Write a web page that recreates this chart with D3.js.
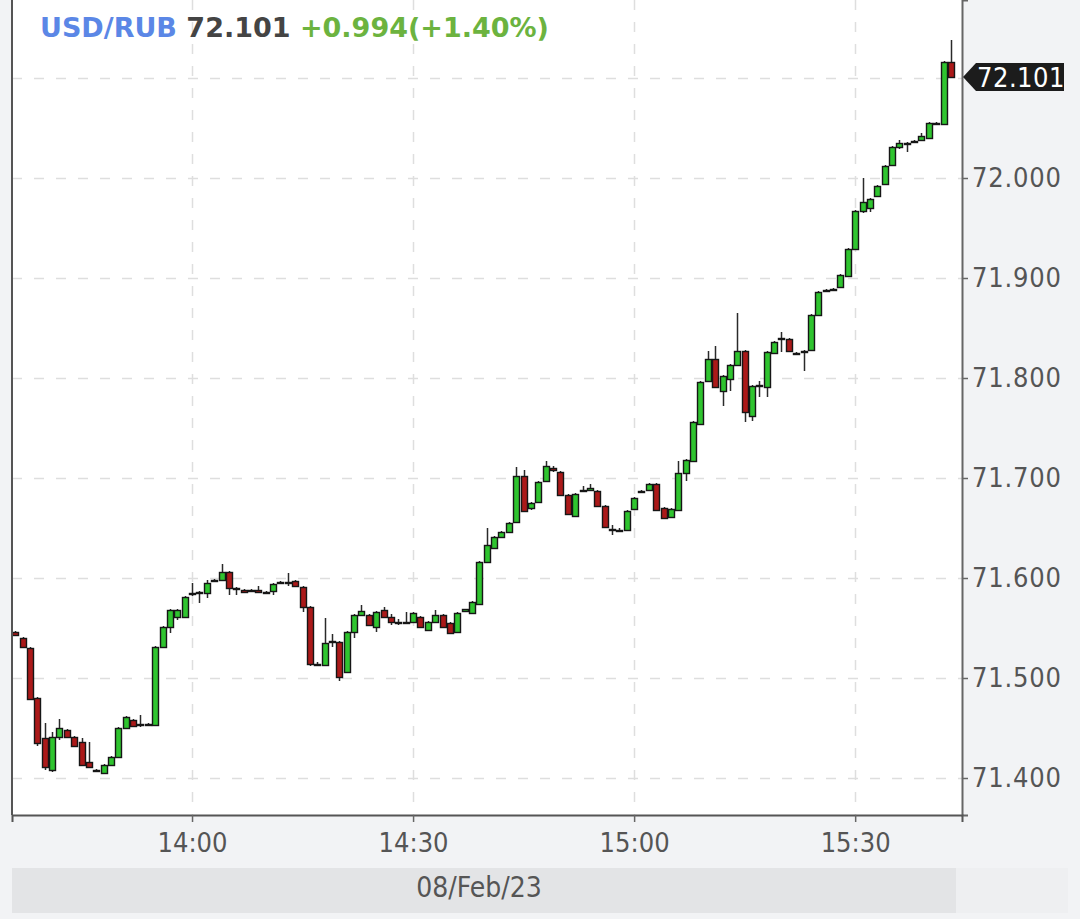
<!DOCTYPE html>
<html>
<head>
<meta charset="utf-8">
<script src="https://cdn.jsdelivr.net/npm/d3@7"></script>
<style>
  body { margin:0; background:#f2f3f5; }
  svg { display:block; }
  .cond { font-family:"DejaVu Sans Condensed","DejaVu Sans",sans-serif; font-stretch:condensed; }
</style>
</head>
<body>
<script>
// one-minute candles, 08 Feb 2023
var times = [
  "13:36","13:37","13:38","13:39","13:40","13:41","13:42","13:43","13:44","13:45",
  "13:46","13:47","13:48","13:49","13:50","13:51","13:52","13:53","13:54","13:55",
  "13:56","13:57","13:58","13:59","14:00","14:01","14:02","14:03","14:04","14:05",
  "14:06","14:07","14:08","14:09","14:10","14:11","14:12","14:13","14:14","14:15",
  "14:16","14:17","14:18","14:19","14:20","14:21","14:22","14:23","14:24","14:25",
  "14:26","14:27","14:28","14:29","14:30","14:31","14:32","14:33","14:34","14:35",
  "14:36","14:37","14:38","14:39","14:40","14:41","14:42","14:43","14:44","14:45",
  "14:46","14:47","14:48","14:49","14:50","14:51","14:52","14:53","14:54","14:55",
  "14:56","14:57","14:58","14:59","15:00","15:01","15:02","15:03","15:04","15:05",
  "15:06","15:07","15:08","15:09","15:10","15:11","15:12","15:13","15:14","15:15",
  "15:16","15:17","15:18","15:19","15:20","15:21","15:22","15:23","15:24","15:25",
  "15:26","15:27","15:28","15:29","15:30","15:31","15:32","15:33","15:34","15:35",
  "15:36","15:37","15:38","15:39","15:40","15:41","15:42","15:43"
];
var opens = [
  71.546,71.540,71.530,71.480,71.440,71.408,71.441,71.448,71.441,71.436,
  71.416,71.408,71.405,71.413,71.421,71.450,71.458,71.454,71.453,71.453,
  71.531,71.551,71.561,71.561,71.585,71.586,71.585,71.598,71.598,71.606,
  71.590,71.588,71.588,71.588,71.586,71.587,71.595,71.596,71.597,71.591,
  71.571,71.514,71.513,71.537,71.536,71.506,71.546,71.563,71.563,71.551,
  71.568,71.561,71.556,71.556,71.556,71.561,71.548,71.556,71.563,71.555,
  71.546,71.567,71.565,71.574,71.616,71.630,71.641,71.646,71.656,71.702,
  71.670,71.676,71.697,71.710,71.706,71.683,71.662,71.688,71.688,71.687,
  71.672,71.649,71.648,71.648,71.669,71.686,71.688,71.694,71.670,71.661,
  71.668,71.705,71.717,71.754,71.797,71.819,71.787,71.799,71.813,71.827,
  71.762,71.792,71.791,71.825,71.840,71.839,71.825,71.827,71.828,71.863,
  71.888,71.889,71.891,71.902,71.929,71.967,71.970,71.982,71.994,72.013,
  72.031,72.035,72.036,72.038,72.040,72.055,72.054,72.116
];
var highs = [
  71.547,71.541,71.531,71.481,71.455,71.446,71.459,71.449,71.442,71.440,
  71.436,71.409,71.414,71.422,71.451,71.462,71.459,71.463,71.455,71.532,
  71.552,71.569,71.569,71.582,71.595,71.587,71.598,71.599,71.614,71.607,
  71.591,71.589,71.589,71.592,71.587,71.595,71.597,71.605,71.598,71.592,
  71.572,71.516,71.560,71.544,71.537,71.547,71.564,71.573,71.564,71.567,
  71.571,71.564,71.559,71.566,71.566,71.562,71.557,71.568,71.564,71.556,
  71.566,71.569,71.577,71.617,71.650,71.642,71.647,71.656,71.711,71.708,
  71.676,71.697,71.717,71.712,71.707,71.684,71.685,71.692,71.694,71.688,
  71.673,71.653,71.650,71.668,71.681,71.688,71.695,71.695,71.671,71.670,
  71.717,71.719,71.757,71.797,71.827,71.832,71.803,71.814,71.865,71.828,
  71.793,71.797,71.827,71.837,71.846,71.840,71.826,71.828,71.864,71.887,
  71.889,71.890,71.904,71.930,71.968,72.000,71.980,71.993,72.013,72.032,
  72.038,72.036,72.038,72.045,72.056,72.056,72.117,72.138
];
var lows = [
  71.542,71.530,71.478,71.432,71.408,71.406,71.438,71.440,71.431,71.412,
  71.410,71.407,71.404,71.412,71.420,71.449,71.451,71.451,71.452,71.452,
  71.530,71.545,71.558,71.560,71.582,71.575,71.580,71.597,71.597,71.583,
  71.583,71.586,71.587,71.585,71.585,71.583,71.594,71.592,71.591,71.566,
  71.512,71.513,71.512,71.531,71.497,71.505,71.540,71.562,71.552,71.546,
  71.560,71.553,71.553,71.554,71.555,71.550,71.547,71.555,71.550,71.544,
  71.545,71.566,71.564,71.573,71.615,71.629,71.640,71.645,71.655,71.666,
  71.668,71.675,71.696,71.706,71.682,71.663,71.661,71.686,71.687,71.671,
  71.650,71.643,71.646,71.647,71.668,71.685,71.687,71.667,71.659,71.660,
  71.667,71.697,71.716,71.753,71.796,71.790,71.772,71.787,71.812,71.756,
  71.757,71.781,71.781,71.824,71.826,71.826,71.823,71.807,71.827,71.862,
  71.887,71.888,71.890,71.901,71.928,71.965,71.966,71.981,71.993,72.012,
  72.029,72.026,72.035,72.037,72.039,72.054,72.053,72.100
];
var closes = [
  71.543,71.531,71.479,71.435,71.411,71.441,71.450,71.441,71.432,71.413,
  71.411,71.408,71.413,71.421,71.450,71.461,71.452,71.454,71.454,71.531,
  71.551,71.568,71.568,71.581,71.585,71.586,71.595,71.598,71.606,71.590,
  71.590,71.586,71.588,71.586,71.586,71.594,71.596,71.596,71.592,71.571,
  71.514,71.514,71.535,71.537,71.501,71.546,71.563,71.567,71.553,71.566,
  71.561,71.556,71.556,71.556,71.565,71.551,71.556,71.563,71.551,71.545,
  71.565,71.569,71.576,71.616,71.633,71.641,71.646,71.655,71.702,71.667,
  71.675,71.696,71.712,71.708,71.683,71.664,71.684,71.688,71.690,71.672,
  71.651,71.649,71.648,71.667,71.680,71.687,71.694,71.668,71.660,71.669,
  71.705,71.718,71.756,71.796,71.819,71.791,71.802,71.813,71.827,71.766,
  71.792,71.793,71.826,71.836,71.840,71.827,71.824,71.827,71.863,71.886,
  71.888,71.889,71.903,71.929,71.967,71.976,71.979,71.992,72.012,72.031,
  72.035,72.034,72.037,72.042,72.055,72.055,72.116,72.101
];

var yTicks = [71.4, 71.5, 71.6, 71.7, 71.8, 71.9, 72.0, 72.1];
var yLabelTicks = [71.4, 71.5, 71.6, 71.7, 71.8, 71.9, 72.0];
var xTicks = ["14:00", "14:30", "15:00", "15:30"];
var symbol = "USD/RUB";
var lastPrice = 72.101;
var changeText = "+0.994(+1.40%)";
var dateLabel = "08/Feb/23";

var width = 1080, height = 919;
var pLeft = 12, pRight = 962, pTop = 0, pBottom = 815;

var parse = d3.timeParse("%H:%M");
var candles = times.map(function(t, i) {
  return { t: parse(t), o: opens[i], h: highs[i], l: lows[i], c: closes[i] };
});

var first = candles[0].t, last = candles[candles.length - 1].t;
var x = d3.scaleTime()
  .domain([d3.timeSecond.offset(first, -26), d3.timeSecond.offset(last, 90)])
  .range([pLeft, pRight]);
var y = d3.scaleLinear()
  .domain([71.4 - 37 / 1000, 72.1 + 78 / 1000])
  .range([pBottom, pTop]);

var svg = d3.select("body").append("svg")
  .attr("width", width).attr("height", height);

svg.append("rect").attr("width", width).attr("height", height).attr("fill", "#f2f3f5");
svg.append("rect").attr("x", pLeft).attr("y", pTop)
  .attr("width", pRight - pLeft).attr("height", pBottom - pTop).attr("fill", "#fff");

svg.append("clipPath").attr("id", "plot")
  .append("rect").attr("x", pLeft).attr("y", pTop)
  .attr("width", pRight - pLeft).attr("height", pBottom - pTop);

// grid
var grid = svg.append("g").attr("stroke", "#dedede").attr("stroke-width", 1.5)
  .attr("stroke-dasharray", "10,12");
grid.selectAll("line.h").data(yTicks).enter().append("line")
  .attr("x1", pLeft).attr("x2", pRight)
  .attr("y1", function(d) { return Math.round(y(d)) + 0.5; })
  .attr("y2", function(d) { return Math.round(y(d)) + 0.5; });
grid.selectAll("line.v").data(xTicks).enter().append("line")
  .attr("y1", pTop).attr("y2", pBottom)
  .attr("x1", function(d) { return Math.round(x(parse(d))) + 0.5; })
  .attr("x2", function(d) { return Math.round(x(parse(d))) + 0.5; });

// header
var head = svg.append("text").attr("x", 40).attr("y", 37)
  .attr("font-family", "DejaVu Sans, sans-serif").attr("font-weight", "bold")
  .attr("font-size", 27);
head.append("tspan").attr("fill", "#5b87e6").text(symbol + " ");
head.append("tspan").attr("fill", "#444").text(lastPrice.toFixed(3) + " ");
head.append("tspan").attr("fill", "#6cb33f").text(changeText);

// candles
var cg = svg.append("g").attr("clip-path", "url(#plot)");
var bw = 6;
var c = cg.selectAll("g.candle").data(candles).enter().append("g");
c.append("line")
  .attr("x1", function(d) { return Math.round(x(d.t) - bw / 2) + bw / 2 + 0.5; })
  .attr("x2", function(d) { return Math.round(x(d.t) - bw / 2) + bw / 2 + 0.5; })
  .attr("y1", function(d) { return Math.round(y(d.h)); })
  .attr("y2", function(d) { return Math.round(y(d.l)); })
  .attr("stroke", "#2a2a2a").attr("stroke-width", 1.5);
c.append("rect")
  .attr("x", function(d) { return Math.round(x(d.t) - bw / 2) + 0.5; })
  .attr("width", bw)
  .attr("y", function(d) { return Math.round(y(Math.max(d.o, d.c))) + 0.5; })
  .attr("height", function(d) {
    return Math.max(1, Math.round(y(Math.min(d.o, d.c))) - Math.round(y(Math.max(d.o, d.c))));
  })
  .attr("fill", function(d) { return d.c >= d.o ? "#2fc42f" : "#ab1919"; })
  .attr("stroke", "#161616").attr("stroke-width", 1.4);

// frame
svg.append("line").attr("x1", pLeft).attr("x2", pLeft).attr("y1", pTop).attr("y2", pBottom)
  .attr("stroke", "#555").attr("stroke-width", 2);

// y axis
var yAxis = svg.append("g").attr("class", "cond")
  .attr("transform", "translate(" + pRight + ",0)")
  .call(d3.axisRight(y).tickValues(yLabelTicks).tickFormat(d3.format(".3f"))
    .tickSize(6).tickPadding(4));
yAxis.select(".domain").attr("stroke", "#666").attr("stroke-width", 2);
yAxis.selectAll(".tick line").attr("stroke", "#666").attr("stroke-width", 1.5);
yAxis.selectAll("text").attr("fill", "#555").attr("font-size", 27)
  .attr("letter-spacing", 0.8)
  .attr("font-family", "DejaVu Sans Condensed, DejaVu Sans, sans-serif");

// x axis
var xAxis = svg.append("g").attr("class", "cond")
  .attr("transform", "translate(0," + pBottom + ")")
  .call(d3.axisBottom(x).tickValues(xTicks.map(parse))
    .tickFormat(d3.timeFormat("%H:%M")).tickSize(7).tickPadding(11));
xAxis.select(".domain").attr("stroke", "#555").attr("stroke-width", 2);
xAxis.selectAll(".tick line").attr("stroke", "#666").attr("stroke-width", 1.5);
xAxis.selectAll("text").attr("fill", "#555").attr("font-size", 27)
  .attr("font-family", "DejaVu Sans Condensed, DejaVu Sans, sans-serif");

// last price tag
var ly = y(lastPrice);
svg.append("path")
  .attr("d", "M" + (pRight + 1) + "," + ly + "L" + (pRight + 14) + "," + (ly - 14) +
    "H1064V" + (ly + 14) + "H" + (pRight + 14) + "Z")
  .attr("fill", "#1c1c1c");
svg.append("text").attr("class", "cond")
  .attr("x", pRight + 15).attr("y", ly).attr("dy", "0.36em")
  .attr("font-size", 27).attr("fill", "#fff").attr("letter-spacing", 0.5)
  .text(lastPrice.toFixed(3));

// date band
svg.append("rect").attr("x", 956).attr("y", 868).attr("width", 112).attr("height", 45)
  .attr("fill", "#eeeff1");
svg.append("rect").attr("x", pLeft).attr("y", 868).attr("width", 944).attr("height", 45)
  .attr("fill", "#e3e4e6");
svg.append("text").attr("class", "cond")
  .attr("x", 479).attr("y", 897).attr("text-anchor", "middle")
  .attr("font-size", 28).attr("fill", "#555")
  .text(dateLabel);
</script>
</body>
</html>
